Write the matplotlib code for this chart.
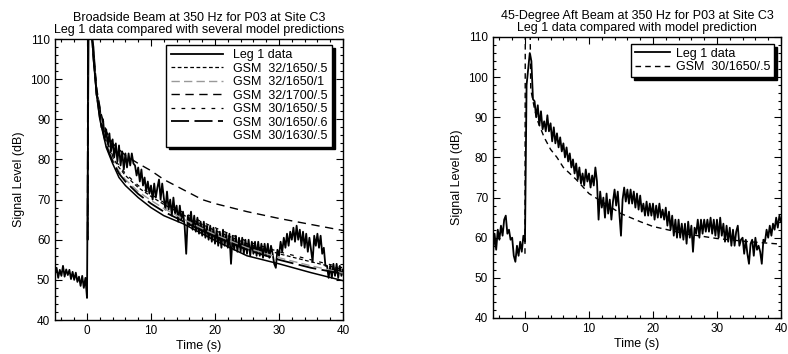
"""
plot.py  - reverberation decay, Leg 1 data vs GSM model predictions
"""

import numpy as np
import matplotlib
matplotlib.use('Agg')
import matplotlib.pyplot as plt
from matplotlib.ticker import MultipleLocator
from matplotlib.lines import Line2D

plt.rcParams['font.family'] = ['Liberation Sans', 'DejaVu Sans']

# ---- Broadside beam, Leg 1 data (0.25 s steps from -5 s, one row per second)
broad_data = [
    51.5, 53, 50.5, 52.5,     # -5
    51, 53.5, 50.8, 52.6,     # -4
    51.2, 52.5, 50.2, 52,     # -3
    50, 51.8, 49.5, 50.8,     # -2
    48.5, 51, 48, 50.5,       # -1
    45.5, 113, 114, 111,      # 0
    108, 102, 96, 95,         # 1
    93, 88, 90, 85.5,         # 2
    87.5, 83.5, 86.5, 82,     # 3
    85, 80.5, 84, 79.5,       # 4
    83.5, 78.5, 82, 77.5,     # 5
    81.5, 78, 81.5, 78.5,     # 6
    81.5, 79, 78.5, 76,       # 7
    78, 74.5, 77.5, 73.5,     # 8
    75.5, 72, 74.5, 71.5,     # 9
    73.5, 70, 74, 70.5,       # 10
    73, 75, 70, 74,           # 11
    70.5, 67.5, 72, 67.5,     # 12
    70, 66, 70.5, 66.5,       # 13
    68.5, 64.5, 68.5, 65,     # 14
    67, 63.5, 56.5, 66,       # 15
    63.5, 67, 62.5, 66,       # 16
    62, 65.5, 61.5, 64.5,     # 17
    61, 64.5, 60.5, 63.5,     # 18
    60, 63.5, 59.5, 63,       # 19
    59, 62.5, 58.5, 62,       # 20
    58, 62.5, 58.5, 61.5,     # 21
    58, 61.5, 54, 61,         # 22
    57.5, 61, 57, 60.5,       # 23
    57, 60.5, 56.5, 60,       # 24
    56.5, 60, 56, 59.5,       # 25
    56.5, 59.5, 56, 59.5,     # 26
    56, 59, 55.5, 59,         # 27
    56, 59, 55.5, 58.5,       # 28
    56.5, 54, 53, 57.5,       # 29
    56, 59.5, 57, 60.5,       # 30
    58, 61.5, 58.5, 62,       # 31
    60, 63, 59.5, 63.5,       # 32
    60, 62.5, 58.5, 62,       # 33
    58, 61.5, 57, 60.5,       # 34
    57.5, 54.5, 61, 58.5,     # 35
    61.5, 58, 61, 56.5,       # 36
    58, 53.5, 53.5, 50.5,     # 37
    53.5, 50.5, 54, 51,       # 38
    54, 50.5, 53.5, 51,       # 39
    52.5,                     # 40
]

# ---- 45-degree aft beam, Leg 1 data (same time grid)
aft_data = [
    56, 61, 57, 62,           # -5
    59.5, 63, 60.5, 64.5,     # -4
    65.5, 61, 62, 59.5,       # -3
    60, 55.5, 54, 58,         # -2
    55.5, 59, 56.5, 60.5,     # -1
    59, 98, 102, 106,         # 0
    104, 94.5, 94, 90,        # 1
    93, 88, 91.5, 87,         # 2
    89, 86.5, 90.5, 86.5,     # 3
    88.5, 84, 87.5, 83.5,     # 4
    86, 82.5, 85, 81.5,       # 5
    83.5, 80, 82.5, 79,       # 6
    81, 77.5, 79.5, 76,       # 7
    78.5, 74.5, 77.5, 73.5,   # 8
    76, 73, 77, 74,           # 9
    76, 72.5, 75.5, 73,       # 10
    77.5, 74, 64.5, 71.5,     # 11
    67.5, 70, 65, 71,         # 12
    66, 69.5, 64.5, 69,       # 13
    72, 68, 71.5, 66,         # 14
    60.5, 69.5, 72.5, 69,     # 15
    72, 68.5, 72, 68.5,       # 16
    71.5, 67.5, 71, 67,       # 17
    70.5, 66.5, 68.5, 65.5,   # 18
    69, 65.5, 68.5, 65.5,     # 19
    68.5, 64.5, 68, 65,       # 20
    68.5, 65, 67, 64.5,       # 21
    67.5, 63, 66.5, 62,       # 22
    65.5, 60.5, 64.5, 60,     # 23
    64.5, 60, 63.5, 59.5,     # 24
    63.5, 58.5, 64, 60,       # 25
    63, 56.5, 62.5, 61,       # 26
    64.5, 60, 64.5, 61,       # 27
    64.5, 61.5, 64.5, 61.5,   # 28
    65, 61, 64.5, 60.5,       # 29
    64.5, 60, 65, 60.5,       # 30
    63.5, 59, 63, 59,         # 31
    62.5, 58, 62, 58,         # 32
    61.5, 63, 58, 59.5,       # 33
    60, 56, 59.5, 56,         # 34
    53.5, 58.5, 59.5, 55.5,   # 35
    60, 57, 58, 56.5,         # 36
    53.5, 59.5, 59, 62,       # 37
    60, 63, 60.5, 63.5,       # 38
    62, 65, 62.5, 65.5,       # 39
    64,                       # 40
]

t_data = np.arange(len(broad_data)) * 0.25 - 5.0

# ---- GSM model predictions, broadside
t_model = [0.1, 0.15, 0.6, 1.0, 1.5, 2, 3, 4, 5, 6, 8, 10, 12, 15, 18, 20, 25, 30, 35, 40]
gsm_32_1650_05 = [60, 115, 115, 106, 97, 91, 84.5, 80.5, 78, 76, 73, 70.8, 68.8, 66.2, 63.8, 62.3, 59, 56.5, 54.5, 52.6]
gsm_32_1650_1 = [60, 115, 115, 106, 97, 91, 84, 80, 77, 75, 72, 69.8, 67.8, 65.2, 62.8, 61.3, 58, 55.5, 53.5, 51.7]
gsm_32_1700_05 = [60, 115, 115, 107, 98, 92.5, 87, 84, 82.5, 81, 79, 77.2, 75, 72.5, 70.0, 69.0, 67.0, 65.3, 63.8, 62.3]
gsm_30_1650_05 = [60, 115, 115, 106, 97.5, 91.5, 85, 81, 78.5, 76.5, 73.5, 71.3, 69.3, 66.8, 64.4, 63, 59.6, 57, 55, 53]
gsm_30_1650_06 = [60, 115, 115, 105.5, 96.5, 90.5, 83.5, 79.5, 76.5, 74.5, 71.4, 69, 67, 64.6, 62.2, 60.8, 57.5, 55, 53, 51.5]
gsm_30_1630_05 = [60, 115, 115, 105, 96, 90, 83, 79, 75.5, 73.5, 70.5, 68, 66, 64, 61.5, 59.8, 56, 54, 51.8, 49.8]

# ---- GSM model, aft beam
t_model_aft = [0.0, 0.05, 0.8, 0.9, 1.5, 2, 3, 4, 5, 6, 7, 8, 10, 12, 15, 18, 20, 25, 30, 35, 40]
gsm_aft = [56, 113, 113, 97, 92, 89, 85, 82, 80, 77.5, 76, 74.5, 71, 69, 66, 64, 62.8, 61, 59.8, 59, 58.4]

fig = plt.figure(figsize=(7.88, 3.54), dpi=100)
ax1 = fig.add_axes([0.0698, 0.096, 0.3655, 0.7938])
ax2 = fig.add_axes([0.6256, 0.1017, 0.3655, 0.7938])

ax1.plot(t_data, broad_data, color='k', lw=1.3, label='Leg 1 data')
ax1.plot(t_model, gsm_32_1650_05, color='k', lw=0.9, dashes=(3, 2), label='GSM  32/1650/.5')
ax1.plot(t_model, gsm_32_1650_1, color='0.6', lw=1.0, dashes=(6, 3), label='GSM  32/1650/1')
ax1.plot(t_model, gsm_32_1700_05, color='k', lw=1.0, dashes=(6, 4), label='GSM  32/1700/.5')
ax1.plot(t_model, gsm_30_1650_05, color='k', lw=0.9, dashes=(3, 5), label='GSM  30/1650/.5')
ax1.plot(t_model, gsm_30_1650_06, color='k', lw=1.3, dashes=(10, 3), label='GSM  30/1650/.6')
ax1.plot(t_model, gsm_30_1630_05, color='k', lw=1.1, label='GSM  30/1630/.5')

ax2.plot(t_data, aft_data, color='k', lw=1.3, label='Leg 1 data')
ax2.plot(t_model_aft, gsm_aft, color='k', lw=1.0, dashes=(4, 3), label='GSM  30/1650/.5')

titles = ['Broadside Beam at 350 Hz for P03 at Site C3\nLeg 1 data compared with several model predictions',
          '45-Degree Aft Beam at 350 Hz for P03 at Site C3\nLeg 1 data compared with model prediction']

for ax, ttl in zip([ax1, ax2], titles):
    ax.set_xlim(-5, 40)
    ax.set_ylim(40, 110)
    ax.xaxis.set_major_locator(MultipleLocator(10))
    ax.xaxis.set_minor_locator(MultipleLocator(2))
    ax.yaxis.set_major_locator(MultipleLocator(10))
    ax.yaxis.set_minor_locator(MultipleLocator(2))
    ax.tick_params(which='both', direction='in', top=True, right=True, labelsize=8.5, width=0.8)
    ax.tick_params(which='major', length=5)
    ax.tick_params(which='minor', length=2.5)
    for s in ax.spines.values():
        s.set_linewidth(1.0)
    ax.set_xlabel('Time (s)', fontsize=9, labelpad=2)
    ax.set_ylabel('Signal Level (dB)', fontsize=9, labelpad=4)
    ax.set_title(ttl, fontsize=9, linespacing=1.0, pad=4)

shadow = {'facecolor': 'black', 'edgecolor': 'black', 'alpha': 1}

h, l = ax1.get_legend_handles_labels()
h[-1] = Line2D([], [], linestyle='none')
leg1 = ax1.legend(h, l, loc='upper right', bbox_to_anchor=(0.962, 0.979), borderaxespad=0,
                  fontsize=9, handlelength=4.2, labelspacing=0.12, handletextpad=0.8,
                  borderpad=0.35, fancybox=False, framealpha=1, edgecolor='k', shadow=shadow)
leg1.get_frame().set_linewidth(1.0)

leg2 = ax2.legend(loc='upper right', bbox_to_anchor=(0.976, 0.975), borderaxespad=0,
                  fontsize=9, handlelength=2.8, labelspacing=0.1, handletextpad=0.5,
                  borderpad=0.3, fancybox=False, framealpha=1, edgecolor='k', shadow=shadow)
leg2.get_frame().set_linewidth(1.0)

fig.savefig('out.png', dpi=100)
